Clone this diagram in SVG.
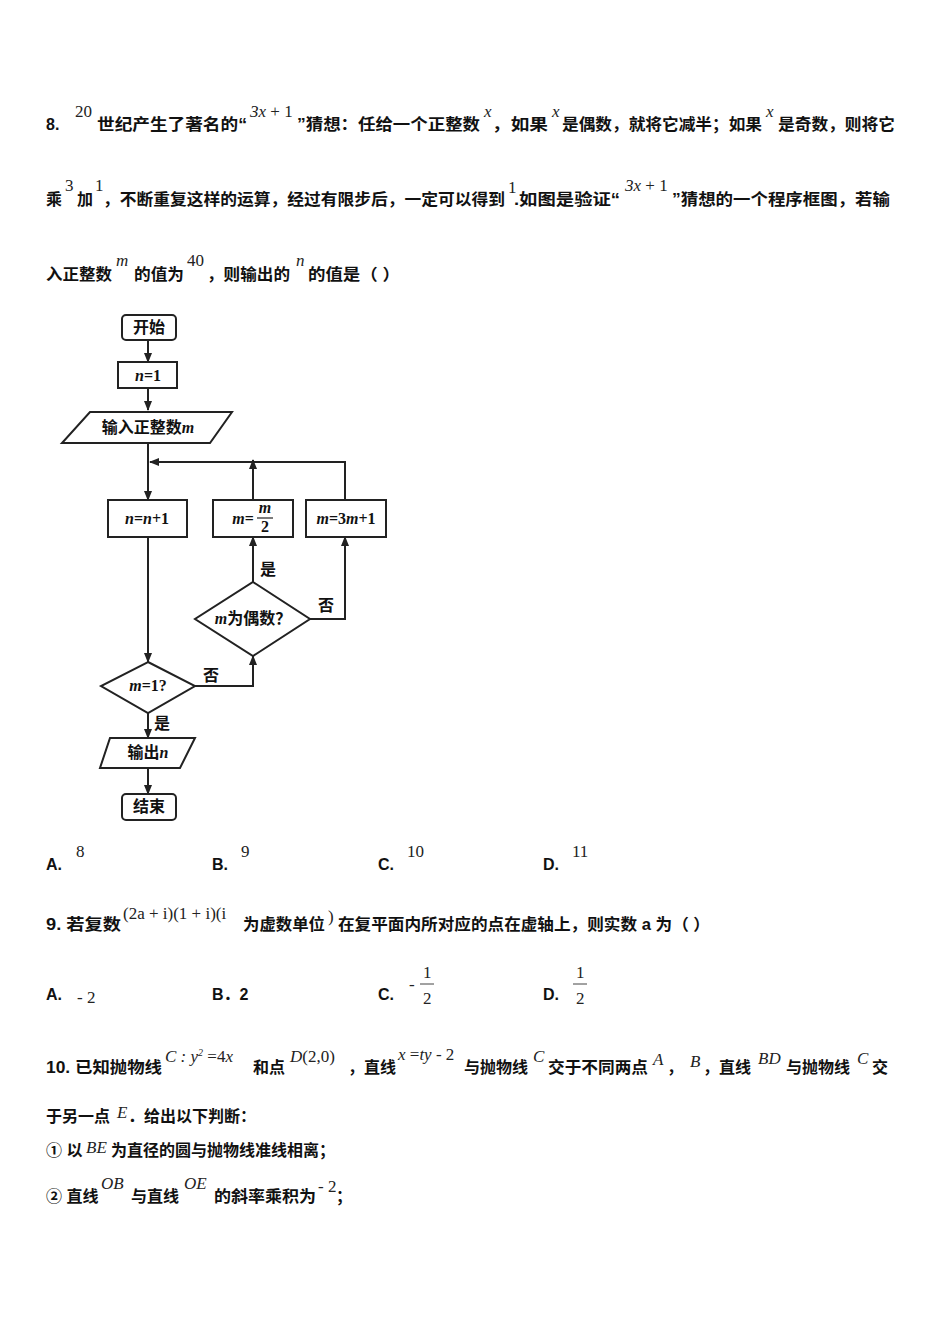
<svg xmlns="http://www.w3.org/2000/svg" width="950" height="1344" viewBox="0 0 950 1344">
<style>
.t{font-family:"Liberation Sans","Noto Sans CJK SC",sans-serif;font-size:16px;font-weight:bold;fill:#111}
.m{font-family:"Liberation Serif",serif;font-size:17px;fill:#222}
.mi{font-family:"Liberation Serif",serif;font-size:17px;font-style:italic;fill:#222}
.f{font-family:"Liberation Serif","Noto Sans CJK SC",serif;font-size:16px;font-weight:bold;fill:#111}
.fi{font-family:"Liberation Serif",serif;font-size:16px;font-weight:bold;font-style:italic;fill:#111}
.s{fill:#fff;stroke:#222;stroke-width:2}
.l{fill:none;stroke:#222;stroke-width:2}
</style>
<defs><marker id="a" viewBox="0 0 10 10" refX="9" refY="5" markerWidth="5" markerHeight="5" orient="auto"><path d="M0,1L10,5L0,9z" fill="#222"/></marker></defs>
<rect width="950" height="1344" fill="#fff"/>
<!-- Q8 -->
<text class="t" x="46" y="130">8.</text>
<text class="m" x="75" y="117">20</text>
<text class="t" x="97" y="130" textLength="150" lengthAdjust="spacingAndGlyphs">世纪产生了著名的“</text>
<text class="m" x="250" y="117"><tspan font-style="italic">3x</tspan> + 1</text>
<text class="t" x="297" y="130" textLength="183" lengthAdjust="spacingAndGlyphs">”猜想：任给一个正整数</text>
<text class="mi" x="484" y="117">x</text>
<text class="t" x="492" y="130" textLength="56" lengthAdjust="spacingAndGlyphs">，如果</text>
<text class="mi" x="552" y="117">x</text>
<text class="t" x="562" y="130" textLength="200" lengthAdjust="spacingAndGlyphs">是偶数，就将它减半；如果</text>
<text class="mi" x="766" y="117">x</text>
<text class="t" x="778" y="130" textLength="117" lengthAdjust="spacingAndGlyphs">是奇数，则将它</text>
<text class="t" x="46" y="205">乘</text>
<text class="m" x="65" y="191">3</text>
<text class="t" x="77" y="205">加</text>
<text class="m" x="95" y="191">1</text>
<text class="t" x="103" y="205" textLength="402" lengthAdjust="spacingAndGlyphs">，不断重复这样的运算，经过有限步后，一定可以得到</text>
<text class="m" x="508" y="193">1</text>
<text class="t" x="514" y="205" textLength="106" lengthAdjust="spacingAndGlyphs">.如图是验证“</text>
<text class="m" x="625" y="191"><tspan font-style="italic">3x</tspan> + 1</text>
<text class="t" x="672" y="205" textLength="218" lengthAdjust="spacingAndGlyphs">”猜想的一个程序框图，若输</text>
<text class="t" x="46" y="280" textLength="66" lengthAdjust="spacingAndGlyphs">入正整数</text>
<text class="mi" x="116" y="266">m</text>
<text class="t" x="134" y="280" textLength="50" lengthAdjust="spacingAndGlyphs">的值为</text>
<text class="m" x="187" y="266">40</text>
<text class="t" x="207" y="280" textLength="83" lengthAdjust="spacingAndGlyphs">，则输出的</text>
<text class="mi" x="296" y="266">n</text>
<text class="t" x="308" y="280" textLength="92" lengthAdjust="spacingAndGlyphs">的值是（  ）</text>
<!-- flowchart -->
<g id="connectors" class="l">
<path d="M148,340V362" marker-end="url(#a)"/>
<path d="M148,388V410" marker-end="url(#a)"/>
<path d="M148,443V500" marker-end="url(#a)"/>
<path d="M345,500V462H150" marker-end="url(#a)"/>
<path d="M253,500V462" />
<path d="M253,470V460" marker-end="url(#a)"/>
<path d="M148,537V662" marker-end="url(#a)"/>
<path d="M253,582V537" marker-end="url(#a)"/>
<path d="M310,619H345V537" marker-end="url(#a)"/>
<path d="M195,686H253V656" marker-end="url(#a)"/>
<path d="M148,713V738" marker-end="url(#a)"/>
<path d="M148,768V794" marker-end="url(#a)"/>
</g>
<g id="start"><rect class="s" x="122" y="315" width="54" height="25" rx="4"/><text class="f" x="149" y="333" text-anchor="middle">开始</text></g>
<g id="n1"><rect class="s" x="118" y="362" width="59" height="26"/><text class="f" x="148" y="381" text-anchor="middle"><tspan font-style="italic">n</tspan>=1</text></g>
<g id="input"><polygon class="s" points="90,412 232,412 210,443 62,443"/><text class="f" x="148" y="433" text-anchor="middle">输入正整数<tspan font-style="italic">m</tspan></text></g>
<g id="inc"><rect class="s" x="108" y="500" width="79" height="37"/><text class="f" x="147" y="524" text-anchor="middle"><tspan font-style="italic">n</tspan>=<tspan font-style="italic">n</tspan>+1</text></g>
<g id="half"><rect class="s" x="213" y="500" width="80" height="37"/><text class="f" x="243" y="524" text-anchor="middle"><tspan font-style="italic">m</tspan>=</text><text class="fi" x="265" y="513" text-anchor="middle" font-size="13">m</text><line x1="257" y1="518" x2="273" y2="518" stroke="#222" stroke-width="1.2"/><text class="f" x="265" y="532" text-anchor="middle" font-size="14">2</text></g>
<g id="triple"><rect class="s" x="306" y="500" width="80" height="37"/><text class="f" x="346" y="524" text-anchor="middle"><tspan font-style="italic">m</tspan>=3<tspan font-style="italic">m</tspan>+1</text></g>
<g id="even"><polygon class="s" points="253,582 310,619 253,656 195,619"/><text class="f" x="253" y="624" text-anchor="middle" font-size="15"><tspan font-style="italic">m</tspan>为偶数？</text></g>
<g id="eq1"><polygon class="s" points="148,662 195,686 148,713 101,686"/><text class="f" x="148" y="691" text-anchor="middle" font-size="15"><tspan font-style="italic">m</tspan>=1?</text></g>
<g id="output"><polygon class="s" points="110,738 195,738 180,768 100,768"/><text class="f" x="148" y="758" text-anchor="middle">输出<tspan font-style="italic">n</tspan></text></g>
<g id="end"><rect class="s" x="122" y="794" width="54" height="26" rx="4"/><text class="f" x="149" y="812" text-anchor="middle">结束</text></g>
<g id="labels">
<text class="f" x="260" y="575">是</text>
<text class="f" x="318" y="611">否</text>
<text class="f" x="203" y="681">否</text>
<text class="f" x="154" y="729">是</text>
</g>
<!-- options Q8 -->
<text class="t" x="46" y="870">A.</text><text class="m" x="76" y="857">8</text>
<text class="t" x="212" y="870">B.</text><text class="m" x="241" y="857">9</text>
<text class="t" x="378" y="870">C.</text><text class="m" x="407" y="857">10</text>
<text class="t" x="543" y="870">D.</text><text class="m" x="572" y="857">11</text>
<!-- Q9 -->
<text class="t" x="46" y="930" textLength="75" lengthAdjust="spacingAndGlyphs">9. 若复数</text>
<text class="m" x="123" y="919">(2a + i)(1 + i)(i</text>
<text class="t" x="243" y="930" textLength="82" lengthAdjust="spacingAndGlyphs">为虚数单位</text>
<text class="m" x="328" y="922">)</text>
<text class="t" x="338" y="930" textLength="372" lengthAdjust="spacingAndGlyphs">在复平面内所对应的点在虚轴上，则实数 a 为（  ）</text>
<text class="t" x="46" y="1000">A.</text><text class="m" x="77" y="1003">- 2</text>
<text class="t" x="212" y="1000">B．2</text>
<text class="t" x="378" y="1000">C.</text><text class="m" x="409" y="990">-</text>
<text class="m" x="423" y="978">1</text><line x1="420" y1="984" x2="434" y2="984" stroke="#444"/><text class="m" x="423" y="1004">2</text>
<text class="t" x="543" y="1000">D.</text>
<text class="m" x="576" y="978">1</text><line x1="573" y1="984" x2="587" y2="984" stroke="#444"/><text class="m" x="576" y="1004">2</text>
<!-- Q10 -->
<text class="t" x="46" y="1073" textLength="116" lengthAdjust="spacingAndGlyphs">10. 已知抛物线</text>
<text class="mi" x="165" y="1062">C : y<tspan font-size="10" dy="-6">2</tspan><tspan dy="6" font-style="normal"> =4</tspan>x</text>
<text class="t" x="253" y="1073">和点</text>
<text class="mi" x="290" y="1062">D<tspan font-style="normal">(2,0)</tspan></text>
<text class="t" x="348" y="1073">，直线</text>
<text class="mi" x="398" y="1060" font-size="14">x <tspan font-style="normal">=</tspan>ty <tspan font-style="normal">- 2</tspan></text>
<text class="t" x="464" y="1073">与抛物线</text>
<text class="mi" x="533" y="1062">C</text>
<text class="t" x="548" y="1073" textLength="100" lengthAdjust="spacingAndGlyphs">交于不同两点</text>
<text class="mi" x="653" y="1065">A</text>
<text class="t" x="667" y="1073">，</text>
<text class="mi" x="690" y="1067" font-size="14">B</text>
<text class="t" x="703" y="1073">，直线</text>
<text class="mi" x="758" y="1064">BD</text>
<text class="t" x="786" y="1073">与抛物线</text>
<text class="mi" x="857" y="1064">C</text>
<text class="t" x="872" y="1073">交</text>
<text class="t" x="46" y="1122">于另一点</text>
<text class="mi" x="117" y="1118">E</text>
<text class="t" x="128" y="1122">．给出以下判断：</text>
<text class="t" x="46" y="1156">① 以</text>
<text class="mi" x="86" y="1153" font-size="14">BE</text>
<text class="t" x="111" y="1156" textLength="224" lengthAdjust="spacingAndGlyphs">为直径的圆与抛物线准线相离；</text>
<text class="t" x="46" y="1202">② 直线</text>
<text class="mi" x="101" y="1189">OB</text>
<text class="t" x="131" y="1202">与直线</text>
<text class="mi" x="184" y="1189">OE</text>
<text class="t" x="214" y="1202" textLength="102" lengthAdjust="spacingAndGlyphs">的斜率乘积为</text>
<text class="m" x="318" y="1192" font-size="15">- 2</text>
<text class="t" x="336" y="1202">；</text>
</svg>
